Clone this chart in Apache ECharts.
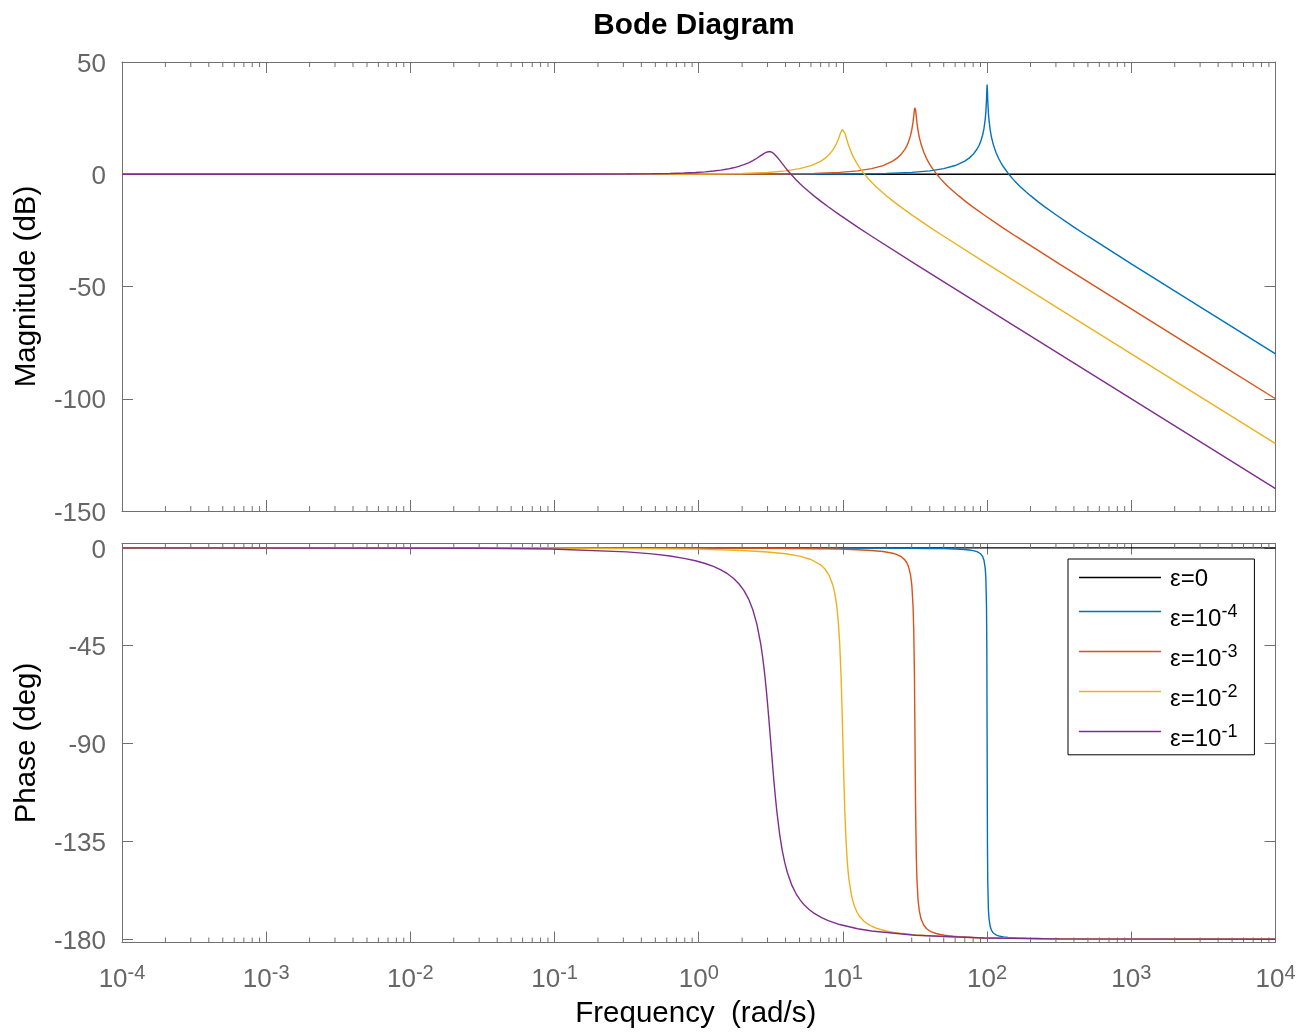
<!DOCTYPE html>
<html><head><meta charset="utf-8">
<script src="https://cdn.jsdelivr.net/npm/echarts@6/dist/echarts.min.js"></script>
<style>html,body{margin:0;padding:0;background:#fff}#c{width:1309px;height:1032px}</style>
</head><body><div id="c"></div>
<script>
// ---- labels / ticks ----
const seriesNames = ['ε=0', 'ε=10^-4', 'ε=10^-3', 'ε=10^-2', 'ε=10^-1'];
const seriesColors = ['#000000', '#0072BD', '#D95319', '#EDB120', '#7E2F8E'];
const magTicks = [50, 0, -50, -100, -150];
const phaseTicks = [0, -45, -90, -135, -180];
const decades = [1e-4, 1e-3, 1e-2, 1e-1, 1, 10, 100, 1000];
const minorMultipliers = [2, 3, 4, 5, 6, 7, 8, 9];

// ---- eps = 0 ----
const freq_e0 = [0.0001, 10000];
const mag_e0 = [0, 0];
const phase_e0 = [0, 0];

// ---- eps = 1e-4 ----
const freq_e4 = [0.0001, 1, 10, 20, 30, 40, 50, 60, 70, 75, 80, 85, 87.5, 90, 93, 95, 97, 98, 99, 99.5, 100, 100.5, 101, 102, 103, 105, 107, 110, 115, 120, 125, 130, 140, 150, 160, 170, 185, 200, 225, 250, 300, 400, 500, 1000, 3000, 10000];
const mag_e4 = [0, 0, 0.09, 0.36, 0.82, 1.51, 2.50, 3.88, 5.85, 7.18, 8.87, 11.13, 12.60, 14.42, 17.37, 20.18, 24.45, 27.79, 33.06, 37.02, 40.00, 36.96, 32.96, 27.60, 24.19, 19.74, 16.76, 13.54, 9.82, 7.13, 5.00, 3.22, 0.35, -1.94, -3.86, -5.53, -7.69, -9.54, -12.18, -14.40, -18.06, -23.52, -27.60, -39.91, -59.08, -80.00];
const phase_e4 = [0, -0.01, -0.06, -0.12, -0.19, -0.27, -0.38, -0.54, -0.79, -0.98, -1.27, -1.75, -2.14, -2.71, -3.94, -5.57, -9.32, -13.90, -26.44, -44.93, -90.00, -134.93, -153.32, -165.83, -170.40, -174.15, -175.78, -177.00, -177.96, -178.44, -178.73, -178.92, -179.16, -179.31, -179.41, -179.48, -179.56, -179.62, -179.68, -179.73, -179.79, -179.85, -179.88, -179.94, -179.98, -179.99];

// ---- eps = 1e-3 ----
const freq_e3 = [0.0001, 0.3162, 3.162, 6.325, 9.487, 12.65, 15.81, 18.97, 22.14, 23.72, 25.30, 26.88, 27.67, 28.46, 29.41, 30.04, 30.67, 30.99, 31.31, 31.46, 31.62, 31.78, 31.94, 32.26, 32.57, 33.20, 33.84, 34.79, 36.37, 37.95, 39.53, 41.11, 44.27, 47.43, 50.60, 53.76, 58.50, 63.25, 71.15, 79.06, 94.87, 126.5, 158.1, 316.2, 948.7, 3162, 10000];
const mag_e3 = [0, 0, 0.09, 0.35, 0.82, 1.51, 2.50, 3.87, 5.84, 7.17, 8.85, 11.09, 12.54, 14.33, 17.19, 19.83, 23.53, 25.97, 28.61, 29.63, 30.00, 29.54, 28.46, 25.73, 23.21, 19.35, 16.55, 13.44, 9.78, 7.10, 4.98, 3.21, 0.35, -1.94, -3.87, -5.53, -7.69, -9.54, -12.18, -14.40, -18.06, -23.52, -27.60, -39.91, -59.08, -80.00, -100.00];
const phase_e3 = [0, -0.02, -0.18, -0.38, -0.60, -0.86, -1.21, -1.70, -2.49, -3.10, -4.02, -5.53, -6.73, -8.52, -12.28, -17.12, -27.43, -38.05, -57.56, -72.41, -90.00, -107.51, -122.18, -141.40, -151.86, -162.05, -166.86, -170.60, -173.57, -175.07, -175.98, -176.59, -177.36, -177.83, -178.14, -178.37, -178.62, -178.79, -179.00, -179.14, -179.32, -179.52, -179.62, -179.82, -179.94, -179.98, -179.99];

// ---- eps = 1e-2 ----
const freq_e2 = [0.0001, 0.1, 1, 2, 3, 4, 5, 6, 7, 7.5, 8, 8.5, 8.75, 9, 9.15, 9.3, 9.5, 9.7, 9.8, 9.9, 9.95, 10, 10.05, 10.1, 10.2, 10.3, 10.5, 10.7, 10.85, 11, 11.5, 12, 12.5, 13, 14, 15, 16, 17, 18.5, 20, 22.5, 25, 30, 40, 50, 100, 300, 1000, 10000];
const mag_e2 = [0, 0, 0.09, 0.35, 0.81, 1.51, 2.48, 3.84, 5.77, 7.06, 8.67, 10.75, 12.04, 13.55, 14.58, 15.70, 17.32, 18.89, 19.52, 19.92, 20.00, 20.00, 19.91, 19.74, 19.20, 18.44, 16.67, 14.89, 13.65, 12.50, 9.31, 6.82, 4.79, 3.07, 0.26, -2.00, -3.91, -5.56, -7.71, -9.56, -12.19, -14.41, -18.07, -23.53, -27.61, -39.91, -59.08, -80.00, -120.00];
const phase_e2 = [0, -0.06, -0.58, -1.19, -1.89, -2.73, -3.81, -5.36, -7.82, -9.73, -12.53, -17.03, -20.47, -25.35, -29.34, -34.54, -44.26, -58.65, -68.00, -78.63, -84.27, -90.00, -95.70, -101.26, -111.61, -120.59, -134.31, -143.56, -148.52, -152.35, -160.38, -164.74, -167.47, -169.33, -171.70, -173.16, -174.14, -174.86, -175.63, -176.19, -176.83, -177.27, -177.85, -178.47, -178.81, -179.42, -179.81, -179.94, -179.99];

// ---- eps = 1e-1 ----
const freq_e1 = [0.0001, 0.03162, 0.09487, 0.3162, 0.4743, 0.6325, 0.7906, 0.9487, 1.107, 1.265, 1.423, 1.581, 1.739, 1.897, 2.056, 2.214, 2.372, 2.530, 2.688, 2.767, 2.846, 2.878, 2.941, 3.004, 3.067, 3.099, 3.131, 3.162, 3.194, 3.226, 3.273, 3.320, 3.400, 3.479, 3.637, 3.795, 3.953, 4.111, 4.427, 4.743, 5.060, 5.376, 5.850, 6.325, 7.115, 7.906, 9.487, 12.65, 15.81, 31.62, 94.87, 316.2, 10000];
const mag_e1 = [0, 0, 0.01, 0.08, 0.19, 0.34, 0.53, 0.77, 1.07, 1.42, 1.83, 2.31, 2.87, 3.51, 4.25, 5.10, 6.06, 7.13, 8.26, 8.81, 9.31, 9.49, 9.80, 10.01, 10.11, 10.11, 10.07, 10.00, 9.90, 9.76, 9.50, 9.18, 8.55, 7.82, 6.27, 4.72, 3.26, 1.90, -0.48, -2.52, -4.30, -5.87, -7.93, -9.73, -12.31, -14.50, -18.12, -23.55, -27.62, -39.92, -59.08, -80.00, -140.00];
const phase_e1 = [0, -0.18, -0.54, -1.83, -2.78, -3.77, -4.82, -5.95, -7.19, -8.56, -10.12, -11.90, -14.00, -16.51, -19.59, -23.46, -28.46, -35.10, -44.09, -49.73, -56.27, -59.15, -65.33, -72.02, -79.09, -82.72, -86.36, -90.00, -93.60, -97.14, -102.28, -107.16, -114.60, -121.12, -131.57, -139.22, -144.90, -149.21, -155.24, -159.22, -162.03, -164.12, -166.42, -168.10, -170.07, -171.44, -173.24, -175.18, -176.23, -178.17, -179.40, -179.82, -179.99];

const freqs = [freq_e0, freq_e4, freq_e3, freq_e2, freq_e1];
const mags = [mag_e0, mag_e4, mag_e3, mag_e2, mag_e1];
const phases = [phase_e0, phase_e4, phase_e3, phase_e2, phase_e1];

// ---- styling ----
const FONT = "'Liberation Sans', Arial, Helvetica, sans-serif";
const AX = '#707070';
const LBL = '#666666';
const MAG_MIN = -150, MAG_MAX = 50;
const PH_MIN = -181.5, PH_MAX = 2;

const xMinor = [];
decades.forEach(d => minorMultipliers.forEach(m => xMinor.push(d * m)));

function zip(a, b) { return a.map((v, i) => [v, b[i]]); }

function xAxisCfg(grid, pos, showLabel) {
  const c = {
    type: 'log', logBase: 10, gridIndex: grid, position: pos,
    min: 1e-4, max: 1e4,
    axisLine: { show: true, onZero: false, lineStyle: { color: AX, width: 1 } },
    axisTick: { show: true, inside: true, length: 11, lineStyle: { color: AX, width: 1 } },
    splitLine: { show: false },
    minorTick: { show: false },
    axisLabel: { show: false }
  };
  if (showLabel) {
    c.axisLabel = {
      show: true, margin: 19, showMinLabel: true, showMaxLabel: true,
      formatter: v => '{b|10}{s|' + Math.round(Math.log10(v)) + '}',
      rich: {
        b: { fontSize: 26, lineHeight: 30, padding: [6, 0, 0, 0], color: LBL, fontFamily: FONT },
        s: { fontSize: 20, lineHeight: 30, padding: [0, 0, 6, 0], color: LBL, fontFamily: FONT }
      }
    };
    c.name = 'Frequency  (rad/s)';
    c.nameLocation = 'middle';
    c.nameGap = 56;
    c.nameTextStyle = { fontSize: 29.5, color: '#000', fontFamily: FONT, padding: [0, 6, 0, 0] };
  }
  return c;
}

function yAxisCfg(grid, pos, min, max, ticks, name) {
  const c = {
    type: 'value', gridIndex: grid, position: pos, min: min, max: max,
    axisLine: { show: true, onZero: false, lineStyle: { color: AX, width: 1 } },
    axisTick: { show: true, inside: true, length: 11, customValues: ticks, lineStyle: { color: AX, width: 1 } },
    splitLine: { show: false },
    axisLabel: { show: false }
  };
  if (name) {
    c.axisLabel = {
      show: true, customValues: ticks, margin: 16,
      formatter: v => '{a|' + v + '}',
      rich: { a: { fontSize: 26, lineHeight: 30, padding: [5, 0, 0, 0], color: LBL, fontFamily: FONT } }
    };
    c.name = name;
    c.nameLocation = 'middle';
    c.nameGap = 80;
    c.nameTextStyle = { fontSize: 29.5, color: '#000', fontFamily: FONT };
  }
  return c;
}

function minorTickSeries(xi, yi, ymin, ymax) {
  return {
    type: 'custom', xAxisIndex: xi, yAxisIndex: yi, silent: true, z: 5,
    data: xMinor.map(v => [v, ymin]),
    renderItem: function (params, api) {
      const v = api.value(0);
      const pb = api.coord([v, ymin]);
      const pt = api.coord([v, ymax]);
      return {
        type: 'group', children: [
          { type: 'line', shape: { x1: pb[0], y1: pb[1], x2: pb[0], y2: pb[1] - 5 }, style: { stroke: AX, lineWidth: 1 } },
          { type: 'line', shape: { x1: pt[0], y1: pt[1], x2: pt[0], y2: pt[1] + 5 }, style: { stroke: AX, lineWidth: 1 } }
        ]
      };
    }
  };
}

const series = [];
seriesNames.forEach((n, i) => {
  series.push({
    name: n, type: 'line', xAxisIndex: 0, yAxisIndex: 0, showSymbol: false, symbol: 'none',
    data: zip(freqs[i], mags[i]), lineStyle: { color: seriesColors[i], width: 1.4 },
    itemStyle: { color: seriesColors[i] }, z: 2 + i
  });
  series.push({
    name: n, type: 'line', xAxisIndex: 2, yAxisIndex: 2, showSymbol: false, symbol: 'none',
    data: zip(freqs[i], phases[i]), lineStyle: { color: seriesColors[i], width: 1.4 },
    itemStyle: { color: seriesColors[i] }, z: 2 + i
  });
});
series.push(minorTickSeries(0, 0, MAG_MIN, MAG_MAX));
series.push(minorTickSeries(2, 2, PH_MIN, PH_MAX));

const chart = echarts.init(document.getElementById('c'), null, { renderer: 'canvas' });
chart.setOption({
  animation: false,
  backgroundColor: '#ffffff',
  title: {
    text: 'Bode Diagram', left: 689, top: 6, textAlign: 'center',
    textStyle: { fontSize: 29.7, fontWeight: 'bold', color: '#000', fontFamily: FONT }
  },
  grid: [
    { left: 122, top: 62, width: 1153.5, height: 449 },
    { left: 122, top: 543.5, width: 1153.5, height: 399 }
  ],
  xAxis: [
    xAxisCfg(0, 'bottom', false),
    xAxisCfg(0, 'top', false),
    xAxisCfg(1, 'bottom', true),
    xAxisCfg(1, 'top', false)
  ],
  yAxis: [
    yAxisCfg(0, 'left', MAG_MIN, MAG_MAX, magTicks, 'Magnitude (dB)'),
    yAxisCfg(0, 'right', MAG_MIN, MAG_MAX, magTicks, null),
    yAxisCfg(1, 'left', PH_MIN, PH_MAX, phaseTicks, 'Phase (deg)'),
    yAxisCfg(1, 'right', PH_MIN, PH_MAX, phaseTicks, null)
  ],
  legend: {
    show: true, orient: 'vertical', left: 1068, top: 559,
    data: seriesNames, selectedMode: false,
    icon: 'rect', itemWidth: 82, itemHeight: 1.5, itemGap: 0,
    padding: [4.4, 17, 3.4, 11],
    borderColor: '#000', borderWidth: 1, backgroundColor: '#ffffff',
    formatter: function (name) {
      const parts = name.split('^');
      if (parts.length === 1) return '{p|' + name + '}';
      return '{b|' + parts[0] + '}{s|' + parts[1] + '}';
    },
    textStyle: {
      color: '#000', fontFamily: FONT,
      rich: {
        p: { fontSize: 24, lineHeight: 37.3, padding: [4, 0, 0, 4], color: '#000', fontFamily: FONT },
        b: { fontSize: 24, lineHeight: 37.3, padding: [16, 0, 0, 4], color: '#000', fontFamily: FONT },
        s: { fontSize: 18, lineHeight: 37.3, padding: [2, 0, 0, 0], color: '#000', fontFamily: FONT }
      }
    }
  },
  series: series
});
</script>
</body></html>
